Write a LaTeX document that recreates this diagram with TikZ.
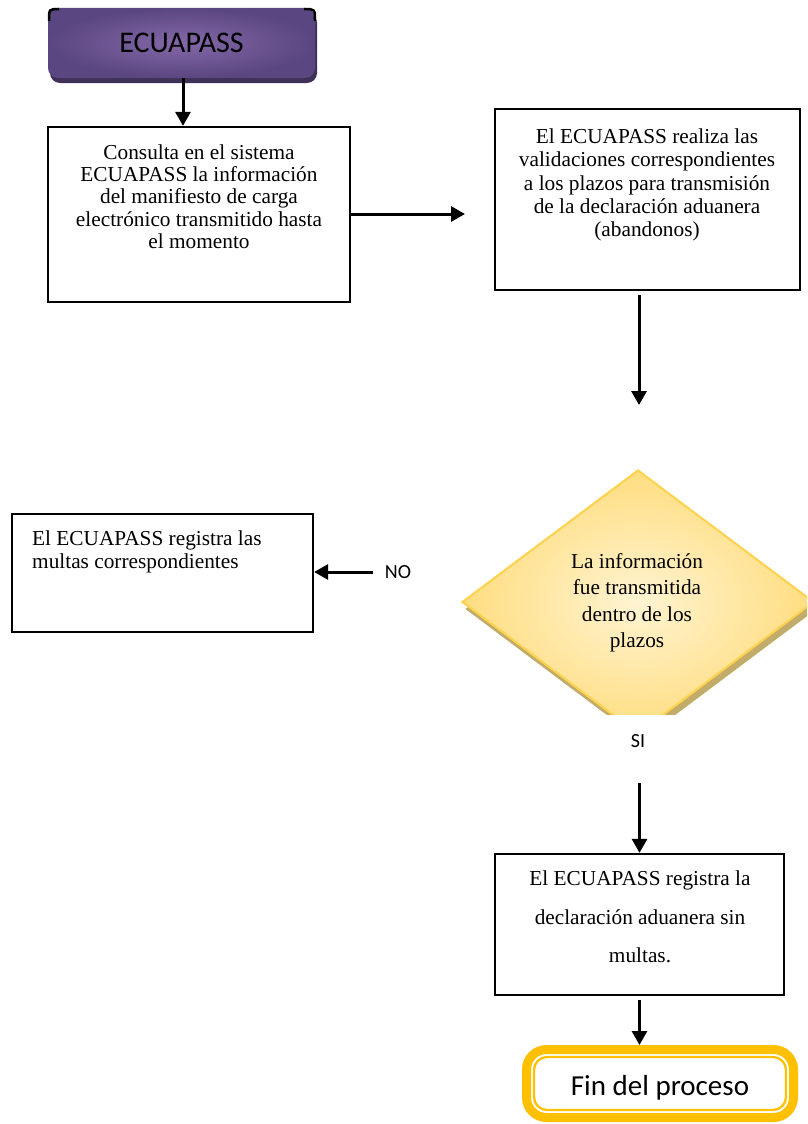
\documentclass[tikz,border=0pt]{standalone}
\usepackage{fontspec}
\setmainfont{Liberation Serif}
\newfontfamily\calib{Carlito}
\usetikzlibrary{arrows.meta,shapes.geometric,shadows}
\definecolor{purp}{HTML}{5A4680}
\definecolor{purpin}{HTML}{8468A9}
\definecolor{purpsh}{HTML}{3F3158}
\definecolor{dyin}{HTML}{FFF4D2}
\definecolor{dyout}{HTML}{FFDD80}
\definecolor{dyborder}{HTML}{FFD24D}
\definecolor{dysh}{HTML}{C2AC6A}
\definecolor{finy}{HTML}{FFC000}
\begin{document}
\begin{tikzpicture}[x=1pt,y=-1pt,
  box/.style={draw=black, line width=2.3pt, rectangle, inner sep=0pt},
  arr/.style={line width=3pt, -{Triangle[length=14pt,width=15pt]}},
  txt/.style={font=\fontsize{21.3}{22.3}\selectfont, align=center, inner sep=0pt},
  lbl/.style={font=\calib\fontsize{20}{24}\selectfont, inner sep=0pt},
  ecubox/.style={rectangle, rounded corners=10pt, inner color=purpin, outer color=purp,
     drop shadow={fill=purpsh, opacity=1, shadow xshift=2pt, shadow yshift=-5pt},
     minimum width=267pt, minimum height=70pt, inner sep=0pt,
     font=\calib\fontsize{30}{34}\selectfont},
  decision/.style={diamond, inner sep=0pt, minimum width=352pt, minimum height=264pt,
     draw=dyborder, line width=2pt, inner color=dyin, outer color=dyout,
     drop shadow={fill=dysh, opacity=1, shadow xshift=3pt, shadow yshift=-7pt}},
  finbox/.style={rectangle, rounded corners=20pt, draw=finy, line width=9pt, fill=white,
     minimum width=267pt, minimum height=68pt, inner sep=0pt, outer sep=0pt,
     font=\calib\fontsize{29}{34}\selectfont}
]
\useasboundingbox (0,0) rectangle (807,1124);

% start
\node[ecubox] (e) at (181.5,43) {ECUAPASS};
\draw[black, line width=2.5pt] (49,21) .. controls (49,9) .. (59,9);
\draw[black, line width=2.5pt] (304,9) .. controls (315,9) .. (315,21);

% box 1
\node[box, minimum width=302pt, minimum height=175pt] (b1) at (199,214.5) {};
\node[txt] (b1t) at (199,196.5) {Consulta en el sistema\\ECUAPASS la información\\del manifiesto de carga\\electrónico transmitido hasta\\el momento};

% box 2
\node[box, minimum width=305pt, minimum height=181pt] (b2) at (647.5,199.5) {};
\node[txt, font=\fontsize{21.3}{23.3}\selectfont] (b2t) at (647,185) {El ECUAPASS realiza las\\validaciones correspondientes\\a los plazos para transmisión\\de la declaración aduanera\\(abandonos)};

% decision (clipped)
\begin{scope}
\clip (0,0) rectangle (807,714);
\node[decision] (d) at (638,602) {};
\end{scope}
\node[txt, font=\fontsize{21.3}{26.5}\selectfont] (dt) at (637,603) {La información\\fue transmitida\\dentro de los\\plazos};

% box 3
\node[box, minimum width=301pt, minimum height=118pt] (b3) at (162.5,573) {};
\node[txt, align=left, anchor=north west] (b3t) at (32,531) {El ECUAPASS registra las\\multas correspondientes};

% box 4
\node[box, minimum width=289pt, minimum height=141pt] (b4) at (639.5,924.5) {};
\node[txt, font=\fontsize{21.3}{38.5}\selectfont] (b4t) at (640,917) {El ECUAPASS registra la\\declaración aduanera sin\\multas.};

% end
\node[finbox] (fin) at (660,1083.5) {\raisebox{-5pt}[20pt][6pt]{Fin del proceso}};
\draw[finy, line width=2.3pt, rounded corners=13pt] ([shift={(7.5pt,-7.5pt)}]fin.north west) rectangle ([shift={(-7.5pt,7.5pt)}]fin.south east);

% labels
\node[lbl] (no) at (398,572) {NO};
\node[lbl] (si) at (638,741) {SI};

% connectors
\coordinate (a1end) at (465,214);
\coordinate (a2s) at (639,295);
\coordinate (a2e) at (639,405);
\coordinate (nos) at (373,572);
\coordinate (sis) at (639.5,783);

\draw[arr] (e.south -| 183,0) -- (b1.north -| 183,0);
\draw[arr] (b1.east |- a1end) -- (a1end);
\draw[arr] (a2s) -- (a2e);
\draw[arr] (nos) -- (b3.east |- nos);
\draw[arr] (sis) -- (b4.north);
\draw[arr] ([yshift=-4pt]b4.south) -- ([yshift=4.5pt]b4.south |- fin.north);
\end{tikzpicture}
\end{document}
